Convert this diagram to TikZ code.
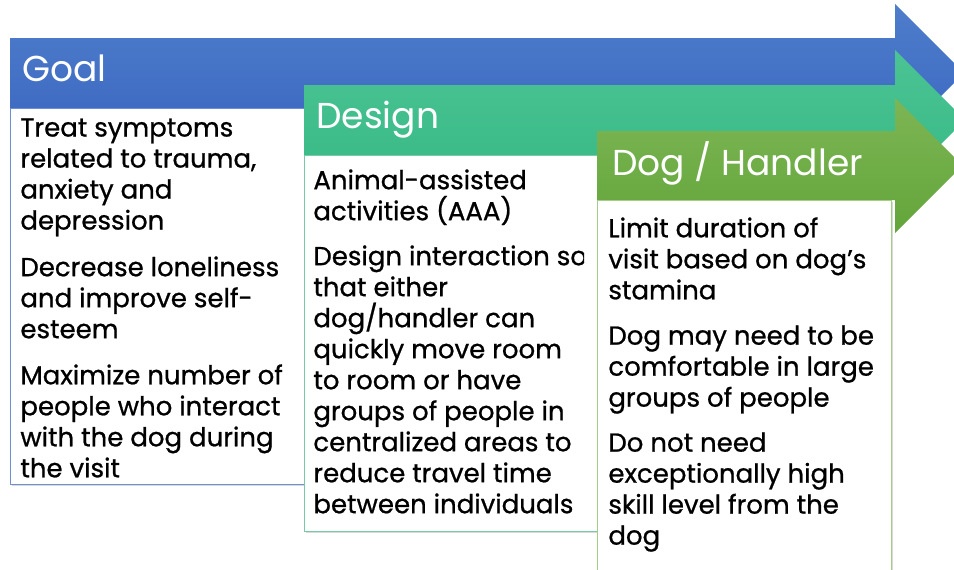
\documentclass[tikz,border=0pt]{standalone}
\usepackage{fontspec}
\setmainfont{Poppins}
\usetikzlibrary{shadows}

\definecolor{goaltop}{HTML}{4F7DCB}
\definecolor{goalbot}{HTML}{3A67C0}
\definecolor{designtop}{HTML}{4CC394}
\definecolor{designbot}{HTML}{36B985}
\definecolor{dogtop}{HTML}{7DB655}
\definecolor{dogbot}{HTML}{63A53A}
\definecolor{goalline}{HTML}{6F8FD0}
\definecolor{designline}{HTML}{79C9A6}
\definecolor{dogline}{HTML}{A5CC88}

\tikzset{
	heading/.style={font=\fontsize{18}{22}\selectfont, text=white, anchor=base west, inner sep=0pt},
	item/.style={font=\fontsize{13}{15.5}\selectfont\addfontfeature{FakeBold=0.8}, align=left, anchor=north west, inner sep=0pt},
	card/.style={fill=white, draw=#1, line width=0.5pt, drop shadow={opacity=0.3, shadow xshift=1.2pt, shadow yshift=-1.2pt}},
}

\begin{document}
\begin{tikzpicture}[x=0.5pt,y=-0.5pt]
	
	\clip (0,0) rectangle (954,569);
	
	% goal
	\shade[top color=goaltop, bottom color=goalbot]
		(10,38) -- (895,38) -- (895,4) -- (964,73) -- (895,142) -- (895,108) -- (10,108) -- cycle;
	
	\draw[card=goalline] (10,108) rectangle (304,484);
	
	\node[heading] (goal) at (22,81) {Goal};
	
	\begin{scope}
	\clip (10,108) rectangle (292,484);
	\node[item] (g1) at (20,118) {Treat symptoms\\related to trauma,\\anxiety and\\depression};
	\node[item] (g2) at (20,256) {Decrease loneliness\\and improve self-\\esteem};
	\node[item] (g3) at (20,364) {Maximize number of\\people who interact\\with the dog during\\the visit};
	\end{scope}
	
	% design
	\shade[top color=designtop, bottom color=designbot]
		(304,85) -- (895,85) -- (895,50) -- (965,120) -- (895,190) -- (895,155) -- (304,155) -- cycle;
	
	\draw[card=designline] (304,155) rectangle (597,531);
	
	\node[heading] (design) at (316,128) {Design};
	
	\begin{scope}
	\clip (304,155) rectangle (584,531);
	\node[item] (d1) at (313,169) {Animal-assisted\\activities (AAA)};
	\node[item] (d2) at (313,245) {Design interaction so\\that either\\dog/handler can\\quickly move room\\to room or have\\groups of people in\\centralized areas to\\reduce travel time\\between individuals};
	\end{scope}
	
	% dog / handler
	\shade[top color=dogtop, bottom color=dogbot]
		(597,131) -- (895,131) -- (895,98) -- (962.5,165.5) -- (895,233) -- (895,200) -- (597,200) -- cycle;
	
	\draw[card=dogline] (597,200) rectangle (891,590);
	
	\node[heading] (dog) at (612,175) {Dog / Handler};
	
	\node[item] (h1) at (608,217) {Limit duration of\\visit based on dog’s\\stamina};
	\node[item] (h2) at (608,325) {Dog may need to be\\comfortable in large\\groups of people};
	\node[item] (h3) at (608,432) {Do not need\\exceptionally high\\skill level from the\\dog};
	
\end{tikzpicture}
\end{document}
